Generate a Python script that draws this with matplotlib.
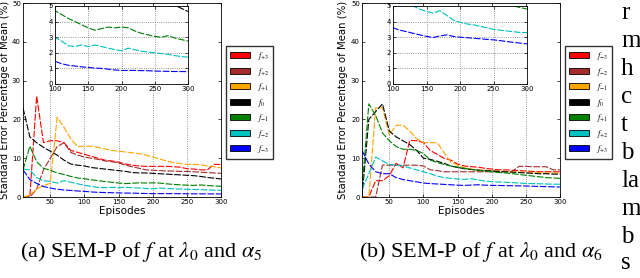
import numpy as np
import matplotlib
matplotlib.use("Agg")
import matplotlib.pyplot as plt
from matplotlib.patches import Patch

plt.rcParams['mathtext.fontset'] = 'stix'

episodes = np.arange(10, 301, 10)
colors = ['#ff0000', '#a52a2a', '#ffa500', '#000000', '#008000', '#00bfbf', '#0000ff']

# (a) alpha_5
labels_a = [r'$f_{+3}$', r'$f_{+2}$', r'$f_{+1}$', r'$f_0$', r'$f_{-1}$', r'$f_{-2}$', r'$f_{-3}$']
a_red = [0, 0, 26, 14, 14.5, 14.5, 14, 12, 11.5, 11, 10.5, 10, 9.5, 9.3, 9, 8.5, 8.2, 8, 7.9, 7.9,
         7.9, 7.9, 7.8, 7.7, 7.3, 7.2, 7, 7, 8.4, 8.4]
a_brown = [0, 0, 2, 7, 10, 13, 14, 11.5, 10.8, 10.3, 10, 9.7, 9.3, 9.1, 8.8, 8.2, 7.8, 7.4, 7.0, 6.9,
           6.8, 6.7, 6.7, 6.6, 6.6, 6.5, 6.4, 6.3, 6.2, 6.1]
a_orange = [0, 0.5, 2, 3, 3.5, 20.5, 18, 15, 13, 13.1, 13.1, 12.8, 12.4, 12, 11.8, 11.6, 11.4, 11.2, 10.8, 10.3,
            9.8, 9.3, 8.9, 8.6, 8.4, 8.4, 8.3, 8.0, 7.8, 7.5]
a_black = [23, 15.5, 14, 12.8, 11.8, 10.8, 9.5, 8.5, 8.2, 8.0, 7.6, 7.4, 7.2, 7.0, 6.8, 6.6, 6.3, 6.2, 6.2, 6.1,
           6.0, 5.9, 5.8, 5.7, 5.6, 5.5, 5.3, 5.05, 4.85, 4.65]
a_green = [7, 13.1, 9.1, 7.4, 6.9, 6.2, 5.8, 5.3, 4.9, 4.7, 4.45, 4.2, 4.0, 3.8, 3.6, 3.45, 3.55, 3.65, 3.6, 3.65,
           3.6, 3.4, 3.25, 3.15, 3.05, 3.0, 3.1, 2.95, 2.85, 2.75]
a_cyan = [7.2, 7.0, 5.0, 4.2, 4.0, 3.6, 4.2, 3.8, 3.4, 3.0, 2.75, 2.45, 2.4, 2.5, 2.4, 2.5, 2.4, 2.3, 2.2, 2.13,
          2.3, 2.2, 2.1, 2.05, 2.0, 1.95, 1.9, 1.82, 1.76, 1.72]
a_blue = [7, 4.5, 3.5, 2.7, 2.3, 2.0, 1.8, 1.7, 1.55, 1.45, 1.3, 1.2, 1.15, 1.1, 1.06, 1.02, 1.0, 0.95, 0.9, 0.87,
          0.87, 0.87, 0.86, 0.85, 0.83, 0.82, 0.81, 0.8, 0.8, 0.79]

# (b) alpha_6
labels_b = [r'$f_{-3}$', r'$f_{-2}$', r'$f_{-1}$', r'$f_0$', r'$f_{+1}$', r'$f_{+2}$', r'$f_{+3}$']
b_red = [0, 0, 4.2, 4.2, 5.5, 8.7, 7.5, 14.6, 14.5, 14, 12, 11, 10, 9.5, 8.5, 8.0, 7.8, 7.7, 7.4, 7.2,
         7.0, 7.0, 6.9, 6.8, 6.7, 6.6, 6.5, 6.5, 6.5, 6.5]
b_brown = [0, 0, 0, 8.2, 8.2, 8.2, 8.2, 8.2, 8.2, 8.0, 7.0, 6.8, 6.5, 6.5, 6.5, 6.5, 6.5, 6.5, 6.5, 6.5,
           6.5, 6.5, 6.6, 7.9, 7.9, 7.8, 7.8, 7.8, 7.0, 7.0]
b_orange = [0, 0, 23, 23, 16, 18.5, 18.5, 17, 15, 14, 14, 14, 11.5, 9, 8.2, 7.5, 7.2, 7.0, 6.9, 6.8,
            6.7, 6.6, 6.5, 6.4, 6.4, 6.3, 6.3, 6.2, 6.2, 6.1]
b_black = [0, 20, 22, 24, 17, 15.5, 14.5, 13.5, 12, 10, 9.7, 9.2, 8.7, 8, 7.6, 7.3, 7.1, 6.9, 6.8, 6.7,
           6.6, 6.5, 6.4, 6.3, 6.2, 6.1, 6.0, 6.0, 5.9, 5.9]
b_green = [2, 24, 21, 16.5, 14.5, 13, 12.3, 12.3, 12, 11.2, 9.5, 8.9, 8.4, 8.0, 7.7, 7.4, 7.1, 6.9, 6.7, 6.5,
           6.3, 6.2, 6.0, 5.8, 5.6, 5.4, 5.2, 5.0, 4.9, 4.8]
b_cyan = [2, 6, 10.3, 9.3, 8.4, 8.2, 8.0, 7.5, 7.0, 6.5, 6.0, 5.4, 5.0, 4.8, 4.65, 4.55, 4.7, 4.4, 4.1, 3.95,
          3.85, 3.8, 3.7, 3.6, 3.5, 3.45, 3.4, 3.35, 3.3, 3.3]
b_blue = [12, 8.5, 6.5, 6, 6, 5, 4.5, 4.2, 3.9, 3.6, 3.45, 3.36, 3.25, 3.15, 3.05, 2.98, 3.08, 3.15, 3.05, 3.0,
          2.97, 2.93, 2.9, 2.86, 2.83, 2.78, 2.72, 2.67, 2.62, 2.57]

series_a = [a_red, a_brown, a_orange, a_black, a_green, a_cyan, a_blue]
series_b = [b_red, b_brown, b_orange, b_black, b_green, b_cyan, b_blue]

fig = plt.figure(figsize=(6.4, 2.78), dpi=100)
W, H = 640.0, 278.0


def box(x0, y0, x1, y1):
    # pixel box -> figure fraction
    return [x0 / W, 1 - y1 / H, (x1 - x0) / W, (y1 - y0) / H]


def style(ax, fs):
    ax.tick_params(direction='in', top=True, right=True, labelsize=fs, length=2.5, width=0.5, pad=1.5)
    for s in ax.spines.values():
        s.set_linewidth(0.6)


def panel(main_box, inset_box, series, labels, legend_xy, ylab_x):
    ax = fig.add_axes(box(*main_box))
    for y, c in zip(series, colors):
        ax.plot(episodes, y, color=c, lw=0.8, dashes=(6, 1.5))
    ax.set_xlim(10, 300)
    ax.set_ylim(0, 50)
    ax.set_xticks([50, 100, 150, 200, 250, 300])
    ax.set_yticks([0, 10, 20, 30, 40, 50])
    ax.xaxis.grid(True, color='#777777', ls=':', lw=0.6)
    style(ax, 5)
    ax.set_xlabel('Episodes', fontsize=7.5, labelpad=1)
    ax.set_ylabel('Standard Error Percentage of Mean (%)', fontsize=7.3)
    ax.yaxis.set_label_coords(ylab_x, 0.5)

    ins = fig.add_axes(box(*inset_box))
    for y, c in zip(series, colors):
        ins.plot(episodes, y, color=c, lw=0.8, dashes=(6, 1.5))
    ins.set_xlim(100, 300)
    ins.set_ylim(0, 5)
    ins.set_xticks([100, 150, 200, 250, 300])
    ins.set_yticks([0, 1, 2, 3, 4, 5])
    ins.grid(True, color='#777777', ls=':', lw=0.6)
    style(ins, 5)

    handles = [Patch(facecolor=c, edgecolor='k', lw=0.6) for c in colors]
    fig.legend(handles, labels, loc='upper left', bbox_to_anchor=(legend_xy[0] / W, 1 - legend_xy[1] / H),
               fontsize=6, handlelength=2.4, handleheight=0.8, labelspacing=0.42,
               fancybox=False, edgecolor='#333333', framealpha=1, borderpad=0.5, handletextpad=0.8,
               borderaxespad=0)


panel((23, 3, 221, 197), (55, 6, 188, 84), series_a, labels_a, (226, 46), -0.065)
panel((362, 3, 560, 197), (393, 6, 527, 84), series_b, labels_b, (565, 46), -0.07)

cap = dict(fontsize=16, family='Liberation Serif', ha='center', va='center')
fig.text(141 / W, 1 - 252 / H, r'(a) SEM-P of $f$ at $\lambda_0$ and $\alpha_5$', **cap)
fig.text(481 / W, 1 - 252 / H, r'(b) SEM-P of $f$ at $\lambda_0$ and $\alpha_6$', **cap)

side_words = ['r', 'm', 'h', 'c', 't', 'b', 'la', 'm', 'b', 's']
side_y = [13, 41, 69, 97, 125, 153, 181, 209, 237, 263]
for w, yy in zip(side_words, side_y):
    fig.text(621 / W, 1 - yy / H, w, fontsize=18, family='Liberation Serif', ha='left', va='center')

fig.savefig('out.png', dpi=100)
